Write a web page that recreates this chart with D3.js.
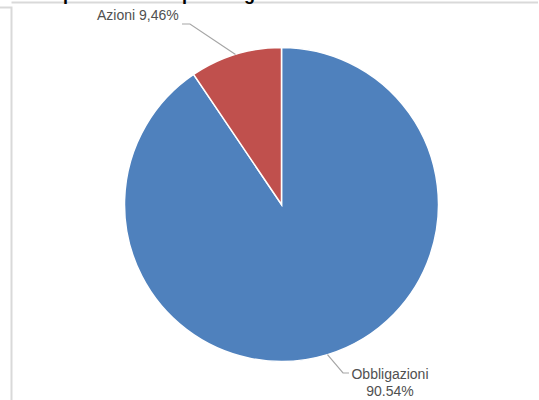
<!DOCTYPE html>
<html>
<head>
<meta charset="utf-8">
<script src="https://cdn.jsdelivr.net/npm/d3@7"></script>
<style>
  body { margin: 0; background: #fff; }
  svg { display: block; }
  .label { font-family: "Liberation Sans", Arial, sans-serif; font-size: 14px; fill: #505050; }
  .title { font-family: "Liberation Sans", Arial, sans-serif; font-size: 18px; font-weight: bold; fill: #000; }
</style>
</head>
<body>
<div id="chart"></div>
<script>
// data
var categories = ["Obbligazioni", "Azioni"],
    values = [90.54, 9.46],
    labelLines = [["Obbligazioni", "90.54%"], ["Azioni 9,46%"]],
    colors = ["#4F81BD", "#C0504D"];

var width = 539, height = 400,
    cx = 281.5, cy = 204.5, radius = 157;

var svg = d3.select("#chart").append("svg")
    .attr("width", width)
    .attr("height", height);

// frame of the sheet (cropped)
svg.append("path")
    .attr("d", "M0,7.5H11.5V400M11.5,2.5H538")
    .attr("fill", "none")
    .attr("stroke", "#D9D9D9")
    .attr("stroke-width", 2);

// title, mostly cut off by the crop
svg.append("text")
    .attr("class", "title")
    .attr("x", 23)
    .attr("y", -0.5)
    .text("Composizione del portafoglio");

var data = categories.map(function(c, i) {
    return { name: c, value: values[i], lines: labelLines[i], color: colors[i] };
});

var pie = d3.pie()
    .sort(null)
    .value(function(d) { return d.value; });

var arc = d3.arc()
    .innerRadius(0)
    .outerRadius(radius);

var g = svg.append("g")
    .attr("transform", "translate(" + cx + "," + cy + ")");

var arcs = pie(data);

g.selectAll(".slice")
    .data(arcs)
    .enter().append("path")
        .attr("class", "slice")
        .attr("d", arc)
        .attr("fill", function(d) { return d.data.color; })
        .attr("stroke", "#fff")
        .attr("stroke-width", 1.5);

// leader lines: from the middle of the slice edge out to the label
var edge = d3.arc().innerRadius(radius).outerRadius(radius);
var leaderEnds = [
    { bend: [343 - cx, 373 - cy], end: [349 - cx, 373 - cy] },
    { bend: [190 - cx, 24 - cy], end: [182 - cx, 24 - cy] }
];

g.selectAll(".leader")
    .data(arcs)
    .enter().append("polyline")
        .attr("class", "leader")
        .attr("points", function(d, i) {
            var p = edge.centroid(d),
                le = leaderEnds[i];
            return [p, le.bend, le.end].map(function(q) { return q.join(","); }).join(" ");
        })
        .attr("fill", "none")
        .attr("stroke", "#A6A6A6")
        .attr("stroke-width", 1.2);

// labels
var labelPos = [
    { x: 390, y: 379, anchor: "middle" },
    { x: 97, y: 20, anchor: "start" }
];

arcs.forEach(function(d, i) {
    var t = svg.append("text")
        .attr("class", "label")
        .attr("x", labelPos[i].x)
        .attr("y", labelPos[i].y)
        .style("text-anchor", labelPos[i].anchor);
    d.data.lines.forEach(function(line, j) {
        t.append("tspan")
            .attr("x", labelPos[i].x)
            .attr("dy", j === 0 ? 0 : 17)
            .text(line);
    });
});
</script>
</body>
</html>
